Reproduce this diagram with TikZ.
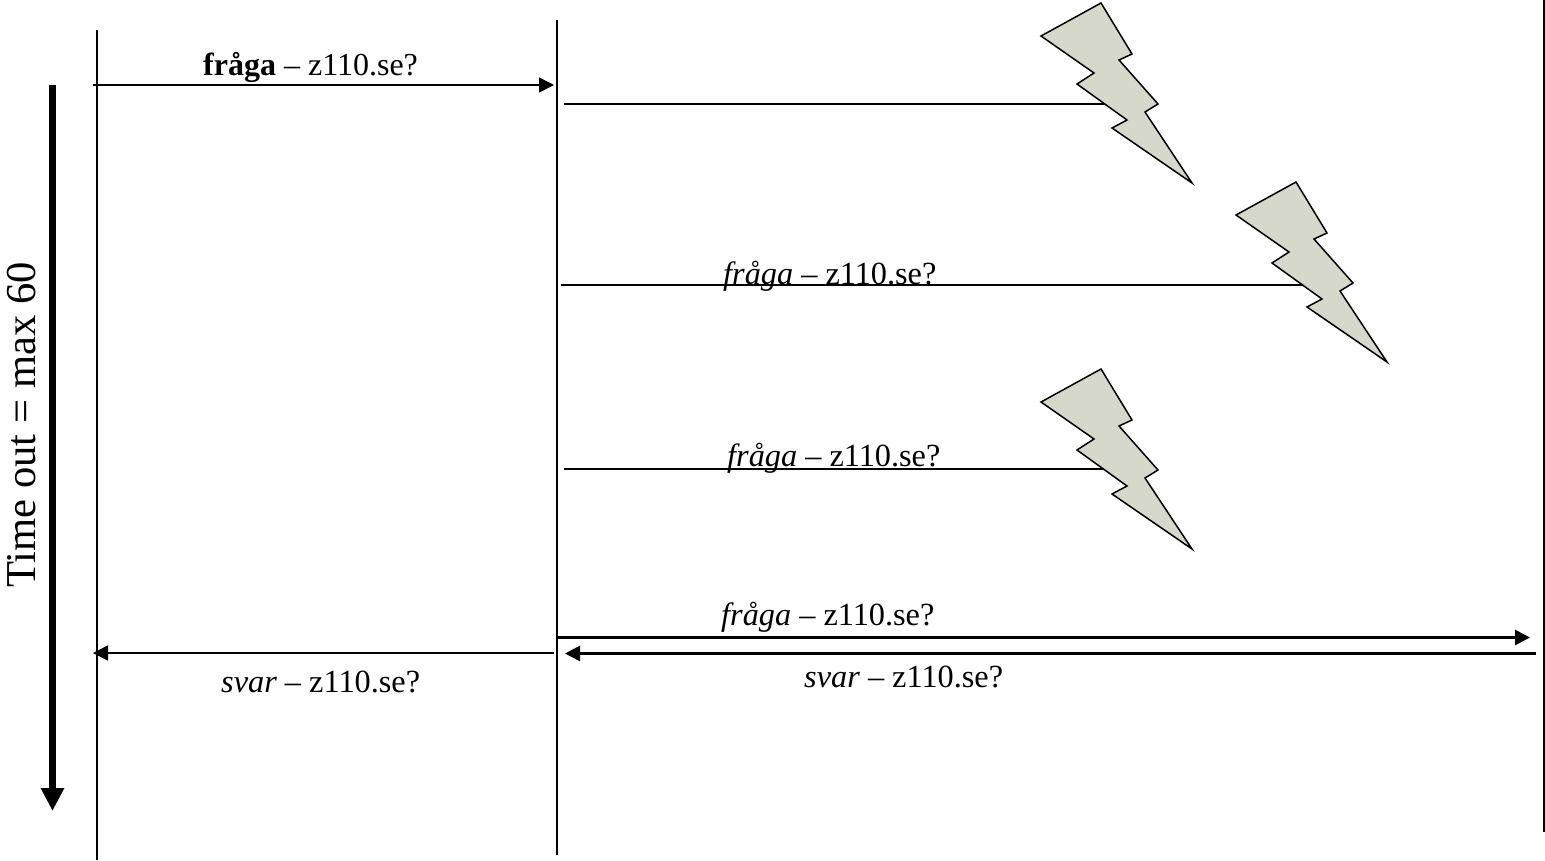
\documentclass[tikz,border=0pt]{standalone}
\usepackage{fontspec}
\setmainfont{Liberation Serif}
\usetikzlibrary{arrows.meta}

\begin{document}
\begin{tikzpicture}[
x=1pt, y=-1pt,
life/.style ={draw, line width=1.1pt},
plain/.style ={draw, line width=1.5pt},
thickplain/.style ={draw, line width=2.2pt},
msg/.style ={draw, line width=1.6pt, -{Triangle[length=15pt,width=15pt]}},
thickmsg/.style ={draw, line width=2.8pt, -{Triangle[length=15pt,width=15pt]}},
timeline/.style ={draw, line width=7.5pt, -{Triangle[length=23pt,width=22pt]}},
label/.style ={anchor=base west, inner sep=0pt, font=\fontsize{32.3}{32.3}\selectfont},
bolt/.pic ={
  \path[draw=black, fill=bolt, line width=1.5pt, line join=miter]
  (1041,36) -- (1101,3) -- (1132,54) -- (1119,60) -- (1158,104) -- (1145,112)
  -- (1192,183) -- (1112,128) -- (1127,120) -- (1077,84) -- (1094,73) -- cycle;
}
]
\definecolor{bolt}{RGB}{214,216,203}
\useasboundingbox (0,0) rectangle (1545,860);

% lifelines
\coordinate (clienttop) at (97,30);
\coordinate (clientbot) at (97,860);
\coordinate (resolvertop) at (557,20);
\coordinate (resolverbot) at (557,855);
\coordinate (servertop) at (1544,0);
\coordinate (serverbot) at (1544,832);
\path[life] (clienttop) -- (clientbot);
\path[life] (resolvertop) -- (resolverbot);
\path[life] (servertop) -- (serverbot);

% time
\coordinate (timetop) at (52.5,85);
\coordinate (timebot) at (52.5,811);
\path[timeline] (timetop) -- (timebot);
\node[label, rotate=90, font=\fontsize{42.6}{42.6}\selectfont] (time) at (35,588) {Time out = max 60};

% query from client
\coordinate (qa) at (93,85);
\coordinate (qb) at (554,85);
\path[msg] (qa) -- (qb);
\node[label, font=\fontsize{32}{32}\selectfont] (qlabel) at (203,75) {\textbf{fråga} – z110.se?};

% lost queries
\coordinate (la) at (564,104);
\coordinate (lb) at (1112,104);
\coordinate (ma) at (561,285);
\coordinate (mb) at (1307,285);
\coordinate (na) at (564,469);
\coordinate (nb) at (1112,469);
\path[plain] (la) -- (lb);
\path[thickplain] (ma) -- (mb);
\path[plain] (na) -- (nb);
\node[label] (mlabel) at (723,284) {\textit{fråga} – z110.se?};
\node[label] (nlabel) at (727,466) {\textit{fråga} – z110.se?};

\pic at (0,0) {bolt};
\pic at (195,179) {bolt};
\pic at (0,366) {bolt};

% answered query
\coordinate (aa) at (558,637.5);
\coordinate (ab) at (1530,637.5);
\coordinate (ba) at (1536,653.5);
\coordinate (bb) at (565,653.5);
\coordinate (ca) at (554,653);
\coordinate (cb) at (93,653);
\path[thickmsg] (aa) -- (ab);
\path[thickmsg] (ba) -- (bb);
\path[msg] (ca) -- (cb);
\node[label] (alabel) at (721,625) {\textit{fråga} – z110.se?};
\node[label] (blabel) at (804,687) {\textit{svar} – z110.se?};
\node[label] (clabel) at (221,692) {\textit{svar} – z110.se?};
\end{tikzpicture}
\end{document}
